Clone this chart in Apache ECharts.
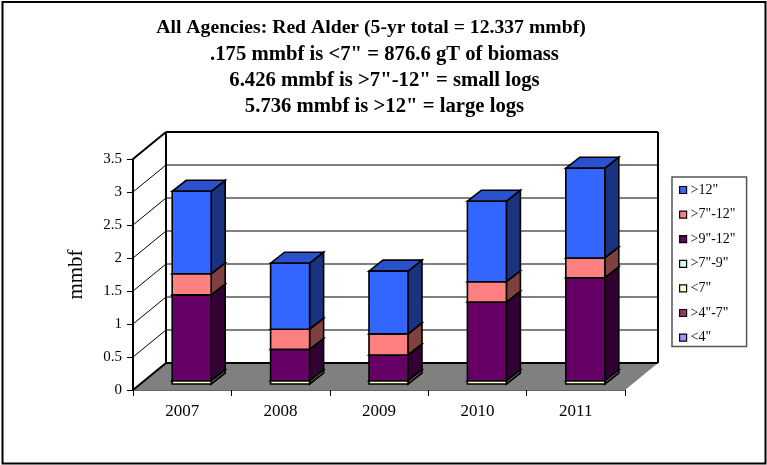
<!DOCTYPE html>
<html><head><meta charset="utf-8">
<style>html,body{margin:0;padding:0;background:#fff}#c{width:767px;height:465px}</style>
<script src="https://cdn.jsdelivr.net/npm/echarts@6/dist/echarts.min.js"></script>
</head><body><div id="c"></div>
<script>
const categories = ['2007','2008','2009','2010','2011'];
const titleLines = ['All Agencies: Red Alder (5-yr total = 12.337 mmbf)','.175 mmbf is <7" = 876.6 gT of biomass','6.426 mmbf is >7"-12" = small logs','5.736 mmbf is >12" = large logs'];
const yTicks = [0.5,1,1.5,2,2.5,3,3.5];
const under4 = [0,0,0,0,0];
const from4to7 = [0,0,0,0,0];
const under7 = [0.05,0.05,0.05,0.05,0.05];
const from7to9 = [0,0,0,0,0];
const from9to12 = [1.30,0.475,0.39,1.19,1.56];
const from7to12 = [0.32,0.305,0.32,0.31,0.30];
const over12 = [1.25,1.0,0.95,1.22,1.36];

const stack = [
 ['<4"', under4, '#9999FF', '#7A7ACC', '#4D4D80'],
 ['>4"-7"', from4to7, '#993366', '#7A2952', '#4D1A33'],
 ['<7"', under7, '#FFFFCC', '#CCCCA3', '#808066'],
 ['>7"-9"', from7to9, '#CCFFFF', '#A3CCCC', '#668080'],
 ['>9"-12"', from9to12, '#660066', '#520052', '#330033'],
 ['>7"-12"', from7to12, '#FF8080', '#CC6666', '#804040'],
 ['>12"', over12, '#3366FF', '#2952CC', '#1A3380']
];
const legendOrder = ['>12"','>7"-12"','>9"-12"','>7"-9"','<7"','>4"-7"','<4"'];

// projection of the 3D box
const WALL_DX = 33, WALL_DY = -27, BAR_DX = 14, BAR_DY = -11, BAR_OX = -10, BAR_OY = -6, BAR_W = 39;
const poly = (pts, fill, stroke, lw) => ({type:'polygon', shape:{points:pts}, style:{fill:fill, stroke:stroke, lineWidth:lw, lineJoin:'miter'}});
const line = (a, b, stroke, lw) => ({type:'line', shape:{x1:a[0],y1:a[1],x2:b[0],y2:b[1]}, style:{stroke:stroke, lineWidth:lw}});

function renderWalls(params, api) {
  const o = api.coord([0, 0]);
  const sz = api.size([1, 0]);
  const x0 = o[0] - sz[0] / 2, x1 = x0 + sz[0] * categories.length, y0 = o[1];
  const top = api.coord([0, 3.5])[1];
  const b = (x, y) => [x + WALL_DX, y + WALL_DY];
  const kids = [];
  kids.push(poly([b(x0, top), b(x1, top), b(x1, y0), b(x0, y0)], '#fff', 'none', 0));
  kids.push(poly([[x0, y0], [x1, y0], b(x1, y0), b(x0, y0)], '#808080', 'none', 0));
  yTicks.forEach(t => {
    const y = api.coord([0, t])[1];
    if (t < 3.5) kids.push(line(b(x0, y), b(x1, y), '#808080', 2));
    kids.push(line([x0, y], b(x0, y), '#000', t === 3.5 ? 2 : 1));
  });
  kids.push(line(b(x0, top), b(x1, top), '#000', 2));
  kids.push(line(b(x0, top), b(x0, y0), '#000', 2));
  kids.push(line(b(x1, top), b(x1, y0), '#000', 2));
  kids.push(line(b(x0, y0), b(x1, y0), '#000', 2));
  kids.push(line([x0, y0], b(x0, y0), '#000', 2));
  return {type:'group', children:kids};
}

function renderBar(colors) {
  return function (params, api) {
    const lo = api.value(1), hi = api.value(2);
    if (hi <= lo) return null;
    const c = api.coord([api.value(0), lo]);
    const d = api.coord([api.value(0), hi]);
    const l = c[0] + BAR_OX, r = l + BAR_W;
    const yb = c[1] + BAR_OY, yt = d[1] + BAR_OY;
    const s = {stroke:'#000', lw:1.6};
    return {type:'group', children:[
      poly([[r, yb], [r + BAR_DX, yb + BAR_DY], [r + BAR_DX, yt + BAR_DY], [r, yt]], colors[2], s.stroke, s.lw),
      poly([[l, yt], [r, yt], [r + BAR_DX, yt + BAR_DY], [l + BAR_DX, yt + BAR_DY]], colors[1], s.stroke, s.lw),
      poly([[l, yb], [r, yb], [r, yt], [l, yt]], colors[0], s.stroke, s.lw)
    ]};
  };
}

const running = categories.map(() => 0);
const barSeries = stack.map(([name, vals, front, topc, side]) => ({
  type:'custom', name, coordinateSystem:'cartesian2d', clip:false,
  itemStyle:{color:front},
  renderItem:renderBar([front, topc, side]),
  encode:{x:0, y:[1,2]},
  data:vals.map((v, i) => { const lo = running[i]; running[i] += v; return [i, lo, running[i]]; })
}));

const serif = '"Liberation Serif","Times New Roman",serif';
const chart = echarts.init(document.getElementById('c'), null, {renderer:'canvas'});
chart.setOption({
  animation:false,
  backgroundColor:'#fff',
  textStyle:{fontFamily:serif},
  title:titleLines.map((t, i) => ({text:t, left:i === 0 ? 371 : 384.5, top:15 + i * 26.3, padding:0, textAlign:'center',
    textStyle:{fontFamily:serif, fontWeight:'bold', fontSize:i === 0 ? 19.7 : 20.7, lineHeight:26.3, color:'#000'}})),
  grid:{left:133, right:142, top:159, bottom:75, containLabel:false},
  xAxis:{type:'category', data:categories, boundaryGap:true,
    axisLine:{lineStyle:{color:'#333', width:1.5}},
    axisTick:{show:true, length:6, lineStyle:{color:'#000', width:1}, alignWithLabel:false},
    axisLabel:{color:'#000', fontFamily:serif, fontSize:17, margin:13}},
  yAxis:{type:'value', min:0, max:3.5, interval:0.5,
    name:'mmbf', nameLocation:'middle', nameGap:46, nameRotate:90,
    nameTextStyle:{color:'#000', fontFamily:serif, fontSize:21},
    axisLine:{show:true, lineStyle:{color:'#000', width:2}},
    axisTick:{show:true, length:6, lineStyle:{color:'#000', width:1}},
    splitLine:{show:false},
    axisLabel:{color:'#000', fontFamily:serif, fontSize:15, margin:11, formatter:v => String(v)}},
  legend:{data:legendOrder, orient:'vertical', left:672, top:177, icon:'rect',
    itemWidth:7, itemHeight:7, itemGap:10.6, padding:[6,11,2,7],
    backgroundColor:'#fff', borderColor:'#555', borderWidth:1.5, borderRadius:0,
    itemStyle:{borderColor:'#000', borderWidth:1.2},
    textStyle:{color:'#000', fontFamily:serif, fontSize:14, padding:[0,0,0,-1]}, selectedMode:false},
  graphic:[{type:'rect', silent:true, z:-1, shape:{x:2.5,y:2,width:763,height:461.5}, style:{fill:'none', stroke:'#000', lineWidth:2}}],
  series:[{type:'custom', name:'walls', coordinateSystem:'cartesian2d', clip:false, silent:true, renderItem:renderWalls, encode:{x:0,y:1}, data:[[0,0]]}].concat(barSeries)
});
</script></body></html>
